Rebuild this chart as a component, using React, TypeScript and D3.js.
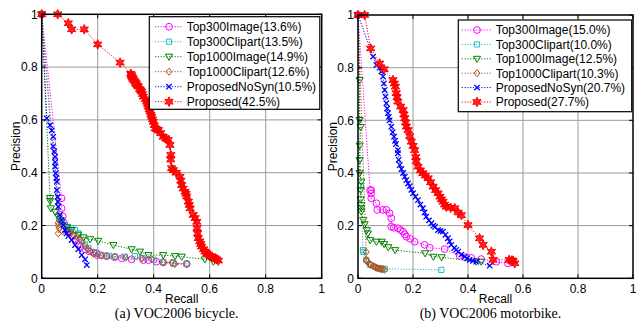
import React from "react";
import * as d3 from "d3";

type Pt = [number, number];

const xTicks = [0, 0.2, 0.4, 0.6, 0.8, 1];
const yTicks = [0, 0.2, 0.4, 0.6, 0.8, 1];
const tickLabels = ["0", "0.2", "0.4", "0.6", "0.8", "1"];

const seriesNames = ["Top300Image", "Top300Clipart", "Top1000Image", "Top1000Clipart", "ProposedNoSyn", "Proposed"];
const leftAP = ["13.6%", "13.5%", "14.9%", "12.6%", "10.5%", "42.5%"];
const rightAP = ["15.0%", "10.0%", "12.5%", "10.3%", "20.7%", "27.7%"];

// VOC2006 bicycle
const L_top300img: Pt[] = [[0,1],[0.071,0.303],[0.071,0.265],[0.075,0.235],[0.08,0.21],[0.09,0.19],[0.1,0.175],[0.11,0.16],[0.12,0.145],[0.13,0.13],[0.14,0.12],[0.155,0.11],[0.17,0.102],[0.185,0.097],[0.196,0.095],[0.208,0.088],[0.232,0.084],[0.26,0.08],[0.286,0.076],[0.321,0.072],[0.363,0.069],[0.381,0.069],[0.41,0.063],[0.434,0.06],[0.47,0.057],[0.518,0.054]];
const L_top300clip: Pt[] = [[0,1],[0.062,0.225],[0.07,0.21],[0.08,0.2],[0.095,0.189],[0.105,0.19],[0.119,0.183],[0.131,0.17],[0.143,0.145],[0.155,0.128],[0.167,0.114],[0.19,0.098],[0.214,0.088],[0.24,0.085],[0.262,0.082],[0.297,0.082],[0.333,0.084],[0.36,0.076],[0.4,0.07],[0.434,0.062],[0.47,0.058],[0.518,0.056]];
const L_top1000img: Pt[] = [[0,1],[0.03,0.304],[0.03,0.293],[0.033,0.265],[0.048,0.252],[0.059,0.233],[0.071,0.214],[0.09,0.195],[0.107,0.183],[0.13,0.165],[0.149,0.155],[0.173,0.148],[0.202,0.142],[0.256,0.126],[0.321,0.11],[0.351,0.101],[0.381,0.088],[0.434,0.088],[0.476,0.084],[0.5,0.082],[0.583,0.072],[0.613,0.063]];
const L_top1000clip: Pt[] = [[0,1],[0.059,0.21],[0.059,0.2],[0.062,0.19],[0.059,0.17],[0.075,0.178],[0.09,0.175],[0.101,0.17],[0.112,0.165],[0.125,0.158],[0.135,0.148],[0.143,0.139],[0.155,0.122],[0.165,0.11],[0.173,0.103],[0.185,0.092],[0.196,0.086],[0.215,0.085],[0.232,0.084],[0.262,0.082],[0.3,0.078],[0.357,0.076],[0.393,0.072],[0.434,0.06],[0.464,0.06],[0.476,0.054],[0.518,0.054]];
const L_noSyn: Pt[] = [[0,1],[0.018,0.606],[0.03,0.58],[0.036,0.56],[0.041,0.536],[0.041,0.5],[0.045,0.48],[0.048,0.46],[0.048,0.44],[0.048,0.423],[0.05,0.398],[0.052,0.38],[0.054,0.366],[0.054,0.334],[0.057,0.309],[0.058,0.29],[0.059,0.271],[0.065,0.24],[0.071,0.221],[0.077,0.202],[0.083,0.183],[0.089,0.17],[0.095,0.16],[0.107,0.145],[0.119,0.126],[0.131,0.11],[0.143,0.088],[0.155,0.072],[0.161,0.05]];
const L_proposed: Pt[] = [[0,1],[0.057,1],[0.095,0.966],[0.107,0.943],[0.152,0.943],[0.2,0.886],[0.28,0.817],[0.318,0.775],[0.32,0.77],[0.322,0.765],[0.324,0.76],[0.326,0.755],[0.33,0.75],[0.333,0.745],[0.336,0.74],[0.338,0.735],[0.342,0.73],[0.345,0.726],[0.35,0.717],[0.354,0.712],[0.357,0.707],[0.36,0.698],[0.363,0.688],[0.37,0.678],[0.375,0.669],[0.378,0.66],[0.38,0.65],[0.384,0.64],[0.387,0.631],[0.39,0.62],[0.393,0.612],[0.396,0.602],[0.399,0.593],[0.402,0.58],[0.405,0.568],[0.41,0.565],[0.417,0.562],[0.425,0.55],[0.434,0.536],[0.443,0.53],[0.452,0.524],[0.458,0.505],[0.461,0.467],[0.461,0.45],[0.464,0.417],[0.47,0.41],[0.48,0.4],[0.494,0.385],[0.497,0.37],[0.5,0.353],[0.505,0.34],[0.512,0.328],[0.515,0.32],[0.518,0.31],[0.524,0.29],[0.527,0.278],[0.53,0.265],[0.541,0.24],[0.548,0.228],[0.554,0.214],[0.555,0.19],[0.557,0.17],[0.559,0.152],[0.565,0.14],[0.568,0.13],[0.571,0.12],[0.578,0.11],[0.583,0.101],[0.59,0.095],[0.596,0.09],[0.601,0.084],[0.61,0.08],[0.619,0.076],[0.625,0.072],[0.631,0.067]];

// VOC2006 motorbike
const R_top300img: Pt[] = [[0,1],[0.044,0.335],[0.048,0.335],[0.048,0.322],[0.048,0.304],[0.067,0.285],[0.07,0.26],[0.09,0.26],[0.103,0.26],[0.115,0.247],[0.121,0.228],[0.121,0.196],[0.13,0.192],[0.145,0.19],[0.155,0.183],[0.164,0.177],[0.17,0.167],[0.176,0.158],[0.19,0.15],[0.206,0.139],[0.242,0.127],[0.261,0.116],[0.315,0.111],[0.37,0.085],[0.39,0.08],[0.412,0.078],[0.448,0.073],[0.503,0.063],[0.545,0.057]];
const R_top300clip: Pt[] = [[0,1],[0.01,0.35],[0.018,0.107],[0.02,0.1],[0.03,0.07],[0.045,0.05],[0.073,0.038],[0.085,0.037],[0.097,0.036],[0.303,0.032]];
const R_top1000img: Pt[] = [[0,1],[0.006,0.753],[0.006,0.601],[0.01,0.575],[0.006,0.504],[0.006,0.449],[0.006,0.399],[0.012,0.367],[0.01,0.335],[0.01,0.3],[0.012,0.278],[0.012,0.266],[0.012,0.253],[0.019,0.221],[0.024,0.205],[0.032,0.183],[0.036,0.17],[0.044,0.145],[0.067,0.139],[0.086,0.139],[0.095,0.13],[0.11,0.118],[0.135,0.107],[0.244,0.095],[0.274,0.082],[0.304,0.08],[0.43,0.063],[0.448,0.063]];
const R_top1000clip: Pt[] = [[0,1],[0.03,0.1],[0.03,0.07],[0.032,0.066],[0.035,0.062],[0.04,0.056],[0.044,0.053],[0.048,0.05],[0.055,0.046],[0.06,0.044],[0.063,0.042],[0.068,0.04],[0.073,0.038],[0.08,0.036],[0.085,0.035],[0.09,0.034],[0.097,0.032]];
const R_noSyn: Pt[] = [[0,1],[0.055,0.842],[0.067,0.81],[0.079,0.8],[0.085,0.785],[0.091,0.766],[0.094,0.74],[0.097,0.715],[0.1,0.69],[0.103,0.665],[0.106,0.645],[0.109,0.627],[0.112,0.613],[0.115,0.6],[0.121,0.576],[0.126,0.555],[0.131,0.538],[0.135,0.522],[0.138,0.51],[0.145,0.487],[0.145,0.475],[0.148,0.45],[0.152,0.43],[0.158,0.415],[0.164,0.4],[0.17,0.386],[0.176,0.373],[0.182,0.36],[0.188,0.35],[0.194,0.336],[0.2,0.323],[0.209,0.31],[0.218,0.297],[0.227,0.28],[0.236,0.266],[0.242,0.25],[0.248,0.234],[0.258,0.22],[0.267,0.209],[0.274,0.2],[0.28,0.195],[0.291,0.183],[0.3,0.18],[0.309,0.177],[0.318,0.165],[0.327,0.152],[0.333,0.14],[0.339,0.127],[0.35,0.115],[0.357,0.108],[0.364,0.101],[0.376,0.09],[0.388,0.082],[0.397,0.076],[0.406,0.07],[0.418,0.066],[0.43,0.063],[0.479,0.048]];
const R_proposed: Pt[] = [[0,1],[0.024,1],[0.046,0.873],[0.079,0.816],[0.095,0.794],[0.127,0.753],[0.132,0.74],[0.136,0.728],[0.139,0.703],[0.142,0.688],[0.145,0.671],[0.155,0.652],[0.164,0.639],[0.167,0.622],[0.17,0.608],[0.173,0.592],[0.176,0.576],[0.182,0.563],[0.188,0.54],[0.194,0.519],[0.2,0.503],[0.206,0.487],[0.21,0.46],[0.212,0.445],[0.218,0.424],[0.227,0.41],[0.236,0.399],[0.245,0.39],[0.255,0.38],[0.264,0.365],[0.273,0.348],[0.282,0.335],[0.291,0.323],[0.298,0.31],[0.303,0.3],[0.309,0.291],[0.315,0.28],[0.321,0.272],[0.337,0.268],[0.352,0.266],[0.364,0.25],[0.376,0.24],[0.4,0.202],[0.442,0.152],[0.455,0.127],[0.485,0.101],[0.491,0.07],[0.55,0.07],[0.56,0.068],[0.564,0.066],[0.57,0.057]];

const colors = ["#ff00ff", "#22c0c0", "#008000", "#b05020", "#0000ff", "#ff0000"];
const markers = ["circle", "square", "triangle", "diamond", "x", "star"];

const FONT = "'Liberation Sans', Arial, sans-serif";

function markerPath(kind: string): string {
  switch (kind) {
    case "circle":
      return d3.symbol(d3.symbolCircle, 36)()!;
    case "square":
      return "M-2.6,-2.6H2.6V2.6H-2.6Z";
    case "triangle":
      return "M-3.6,-2.5L3.6,-2.5L0,3.6Z";
    case "diamond":
      return "M0,-3.5L3,0L0,3.5L-3,0Z";
    case "x":
      return "M-2.7,-2.7L2.7,2.7M-2.7,2.7L2.7,-2.7";
    default: {
      const pts: string[] = [];
      for (let i = 0; i < 12; i++) {
        const a = (Math.PI / 6) * i - Math.PI / 2;
        const r = i % 2 === 0 ? 4.8 : 2.4;
        pts.push(`${(r * Math.cos(a)).toFixed(2)},${(r * Math.sin(a)).toFixed(2)}`);
      }
      return "M" + pts.join("L") + "Z";
    }
  }
}

function Marker({ kind, color, x, y }: { kind: string; color: string; x: number; y: number }) {
  const filled = kind === "star";
  return (
    <path
      d={markerPath(kind)}
      transform={`translate(${x},${y})`}
      fill={filled ? color : "none"}
      fillOpacity={filled ? 0.85 : 0}
      stroke={color}
      strokeWidth={kind === "x" ? 1.3 : 1}
    />
  );
}

interface PanelProps {
  x0: number; x1: number; y0: number; y1: number;
  data: Pt[][];
  ap: string[];
  legend: { x: number; y: number; w: number; h: number; row: number; lineX0: number; lineX1: number; textX: number };
  caption: string;
  ylabelX: number;
}

function Panel({ x0, x1, y0, y1, data, ap, legend, caption, ylabelX }: PanelProps) {
  const x = d3.scaleLinear().domain([0, 1]).range([x0, x1]);
  const y = d3.scaleLinear().domain([0, 1]).range([y1, y0]);
  const line = d3.line<Pt>().x((d) => x(d[0])).y((d) => y(d[1]));
  const tl = 4;
  return (
    <g>
      {xTicks.slice(1, -1).map((t) => (
        <line key={"gx" + t} x1={x(t)} x2={x(t)} y1={y0} y2={y1} stroke="#999" strokeWidth={1} />
      ))}
      {yTicks.slice(1, -1).map((t) => (
        <line key={"gy" + t} x1={x0} x2={x1} y1={y(t)} y2={y(t)} stroke="#999" strokeWidth={1} />
      ))}
      {data.map((s, i) => (
        <g key={"s" + i}>
          <path d={line(s)!} fill="none" stroke={colors[i]} strokeWidth={1} strokeDasharray="1.2,1.6" />
          {s.map((p, j) => (
            <Marker key={j} kind={markers[i]} color={colors[i]} x={x(p[0])} y={y(p[1])} />
          ))}
        </g>
      ))}
      <rect x={x0} y={y0} width={x1 - x0} height={y1 - y0} fill="none" stroke="#000" strokeWidth={1.5} />
      {xTicks.map((t, i) => (
        <g key={"tx" + t}>
          <line x1={x(t)} x2={x(t)} y1={y1} y2={y1 - tl} stroke="#000" />
          <line x1={x(t)} x2={x(t)} y1={y0} y2={y0 + tl} stroke="#000" />
          <text x={x(t)} y={293} textAnchor="middle" fontFamily={FONT} fontSize={12}>{tickLabels[i]}</text>
        </g>
      ))}
      {yTicks.map((t, i) => (
        <g key={"ty" + t}>
          <line x1={x0} x2={x0 + tl} y1={y(t)} y2={y(t)} stroke="#000" />
          <line x1={x1} x2={x1 - tl} y1={y(t)} y2={y(t)} stroke="#000" />
          <text x={x0 - 4} y={y(t) + 4.3} textAnchor="end" fontFamily={FONT} fontSize={12}>{tickLabels[i]}</text>
        </g>
      ))}
      <text x={(x0 + x1) / 2} y={303} textAnchor="middle" fontFamily={FONT} fontSize={12}>Recall</text>
      <text transform={`translate(${ylabelX},${(y0 + y1) / 2}) rotate(-90)`} textAnchor="middle" fontFamily={FONT} fontSize={12}>Precision</text>
      <text x={(x0 + x1) / 2 - 5} y={318} textAnchor="middle" fontFamily="'Liberation Serif', 'Times New Roman', serif" fontSize={14}>{caption}</text>
      <rect x={legend.x} y={legend.y} width={legend.w} height={legend.h} fill="#fff" stroke="#000" strokeWidth={1.2} />
      {seriesNames.map((n, i) => {
        const cy = legend.y + 10 + i * legend.row;
        const mx = (legend.lineX0 + legend.lineX1) / 2;
        return (
          <g key={"lg" + i}>
            <line x1={legend.lineX0} x2={legend.lineX1} y1={cy} y2={cy} stroke={colors[i]} strokeDasharray="1.2,1.6" />
            <Marker kind={markers[i]} color={colors[i]} x={mx} y={cy} />
            <text x={legend.textX} y={cy + 4.3} fontFamily={FONT} fontSize={12}>{`${n}(${ap[i]})`}</text>
          </g>
        );
      })}
    </g>
  );
}

export default function App() {
  return (
    <svg width={636} height={322} style={{ position: "absolute", left: 0, top: 0, background: "#fff" }}>
      <rect width={636} height={322} fill="#fff" />
      <Panel
        x0={41.7} x1={321.7} y0={14.3} y1={278.3}
        data={[L_top300img, L_top300clip, L_top1000img, L_top1000clip, L_noSyn, L_proposed]}
        ap={leftAP}
        legend={{ x: 149.3, y: 16.7, w: 170.5, h: 92.6, row: 15, lineX0: 155, lineX1: 183, textX: 186.7 }}
        caption="(a) VOC2006 bicycle."
        ylabelX={20}
      />
      <Panel
        x0={358} x1={633} y0={15} y1={278.3}
        data={[R_top300img, R_top300clip, R_top1000img, R_top1000clip, R_noSyn, R_proposed]}
        ap={rightAP}
        legend={{ x: 458.3, y: 20, w: 173.4, h: 91.7, row: 14.4, lineX0: 461.7, lineX1: 492.3, textX: 495.7 }}
        caption="(b) VOC2006 motorbike."
        ylabelX={337}
      />
    </svg>
  );
}
